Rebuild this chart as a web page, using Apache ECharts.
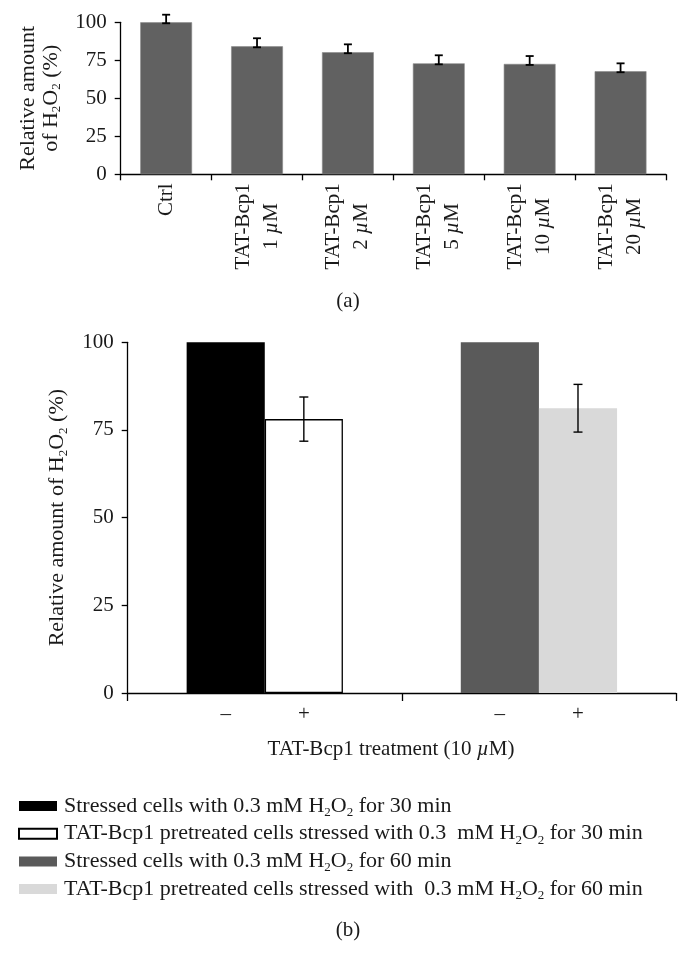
<!DOCTYPE html>
<html><head><meta charset="utf-8">
<script src="https://cdn.jsdelivr.net/npm/echarts@6/dist/echarts.min.js"></script>
<style>html,body{margin:0;padding:0;background:#fff}#c{width:687px;height:971px}</style>
</head><body><div id="c"></div>
<script>
// ---------- Panel (a) data ----------
const aCategories = ['Ctrl', 'TAT-Bcp1\n1 µM', 'TAT-Bcp1\n2 µM', 'TAT-Bcp1\n5 µM', 'TAT-Bcp1\n10 µM', 'TAT-Bcp1\n20 µM'];
const aValues = [100, 84.2, 80.3, 73.0, 72.6, 67.8];
const aErrors = [5.0, 5.3, 5.2, 5.3, 5.2, 5.2];
const aTickMin = 0, aTickMax = 100, aTickStep = 25;

// ---------- Panel (b) data ----------
const bGroups = ['30 min', '60 min'];
const bSigns = ['–', '+'];
const bNames = [
  'Stressed cells with 0.3 mM H2O2 for 30 min',
  'TAT-Bcp1 pretreated cells stressed with 0.3  mM H2O2 for 30 min',
  'Stressed cells with 0.3 mM H2O2 for 60 min',
  'TAT-Bcp1 pretreated cells stressed with  0.3 mM H2O2 for 60 min'
];
const bControl = [100, 100];          // untreated (–)
const bTreated = [78.1, 81.2];        // TAT-Bcp1 treated (+)
const bTreatedErr = [6.3, 6.8];
const bTickMin = 0, bTickMax = 100, bTickStep = 25;

const FONT = 'Liberation Serif';
const TXT = '#1a1a1a';
const BAR_GAP_A = 0.43, BAR_GAP_B = 0.43;

// measure text for centring second label line
const cv = document.createElement('canvas').getContext('2d');
function mw(t, italic, size) { cv.font = (italic ? 'italic ' : '') + size + 'px "' + FONT + '"'; return cv.measureText(t).width; }
const LS = 21, LLH = 28;
const aRich = {
  a: {fontFamily: FONT, fontSize: LS, color: TXT, lineHeight: LLH},
  m: {fontFamily: FONT, fontSize: LS, color: TXT, fontStyle: 'italic', lineHeight: LLH}
};
aCategories.forEach((c, i) => {
  const l = c.split('\n');
  if (l.length > 1) {
    const p = l[1].split('µ');
    const w1 = mw(l[0], false, LS);
    const w2 = mw(p[0], false, LS) + mw('µ', true, LS) + mw(p[1], false, LS);
    aRich['p' + i] = {width: Math.max(0, (w1 - w2) / 2), fontSize: LS, lineHeight: LLH};
  }
});

const sub = (size) => ({fontFamily: FONT, fontSize: size, fontWeight: 'normal', color: TXT, lineHeight: size, verticalAlign: 'bottom'});
const main = (size, lh) => ({fontFamily: FONT, fontSize: size, fontWeight: 'normal', color: TXT, lineHeight: lh});
function h2o2(s) {
  return s.split('H2O2').map(x => '{t|' + x + '}').join('{t|H}{s|2}{t|O}{s|2}');
}

const chart = echarts.init(document.getElementById('c'), null, {renderer: 'canvas'});
const axisLine = {show: true, lineStyle: {color: '#000', width: 1.3}};
const signLabel = (k) => ({show: true, position: 'bottom', distance: 11, formatter: () => bSigns[k],
  fontFamily: FONT, fontSize: 21, color: TXT});

const option = {
  animation: false,
  backgroundColor: '#fff',
  title: [
    {text: '(a)', left: 343, top: 286, textAlign: 'center',
     textStyle: {fontFamily: FONT, fontSize: 21, fontWeight: 'normal', color: TXT}},
    {text: '(b)', left: 343, top: 915, textAlign: 'center',
     textStyle: {fontFamily: FONT, fontSize: 21, fontWeight: 'normal', color: TXT}},
    {text: '{t|TAT-Bcp1 treatment (10 }{i|µ}{t|M)}', left: 386, top: 731, textAlign: 'center',
     textStyle: {fontWeight: 'normal', rich: {t: main(21, 26), i: Object.assign(main(21, 26), {fontStyle: 'italic'})}}}
  ],
  legend: {
    orient: 'vertical', left: 13, top: 790,
    itemWidth: 38, itemHeight: 10, itemGap: 3.7,
    icon: 'rect',
    data: bNames,
    formatter: n => h2o2(n),
    textStyle: {padding: [0, 0, 0, 2], rich: {t: main(22, 26), s: sub(13)}}
  },
  grid: [
    {left: 120.7, top: 22.3, width: 545.3, height: 152, containLabel: false},
    {left: 127.7, top: 342.3, width: 548.3, height: 350.7, containLabel: false}
  ],
  xAxis: [
    {gridIndex: 0, type: 'category', data: aCategories,
     axisLine: axisLine, axisTick: {show: true, length: 6, lineStyle: {color: '#000', width: 1.3}},
     axisLabel: {rotate: 90, margin: 9, interval: 0,
       formatter: (v, i) => {
         const l = v.split('\n');
         if (l.length === 1) return '{a|' + v + '}';
         const p = l[1].split('µ');
         return '{a|' + l[0] + '}\n{a|' + p[0] + '}{m|µ}{a|' + p[1] + '}{p' + i + '| }';
       },
       rich: aRich}},
    {gridIndex: 1, type: 'category', data: bGroups,
     axisLine: axisLine, axisTick: {show: true, length: 8, lineStyle: {color: '#000', width: 1.3}},
     axisLabel: {show: false}}
  ],
  yAxis: [
    {gridIndex: 0, type: 'value', min: aTickMin, max: aTickMax, interval: aTickStep,
     axisLine: axisLine, axisTick: {show: true, length: 6, lineStyle: {color: '#000', width: 1.3}},
     splitLine: {show: false},
     axisLabel: {fontFamily: FONT, fontSize: 21, color: TXT, margin: 14},
     name: '{t|Relative amount}\n' + h2o2('of H2O2 (%)'),
     nameLocation: 'middle', nameGap: 58, nameRotate: 90,
     nameTextStyle: {rich: {t: main(22, 23), s: sub(13)}}},
    {gridIndex: 1, type: 'value', min: bTickMin, max: bTickMax, interval: bTickStep,
     axisLine: axisLine, axisTick: {show: true, length: 6, lineStyle: {color: '#000', width: 1.3}},
     splitLine: {show: false},
     axisLabel: {fontFamily: FONT, fontSize: 21, color: TXT, margin: 14},
     name: h2o2('Relative amount of H2O2 (%)'),
     nameLocation: 'middle', nameGap: 58, nameRotate: 90,
     nameTextStyle: {rich: {t: main(22, 24), s: sub(13)}}}
  ],
  series: [
    {type: 'bar', xAxisIndex: 0, yAxisIndex: 0, data: aValues,
     barCategoryGap: (BAR_GAP_A * 100) + '%',
     itemStyle: {color: '#616161', borderColor: '#8a8a8a', borderWidth: 0.6}},
    {type: 'custom', xAxisIndex: 0, yAxisIndex: 0, z: 5,
     data: aValues.map((v, i) => [i, v, aErrors[i]]),
     renderItem: (params, api) => {
       const i = api.value(0), v = api.value(1), e = api.value(2);
       const top = api.coord([i, v + e]), bot = api.coord([i, v]);
       const cw = 4;
       const st = {stroke: '#000', lineWidth: 1.8};
       return {type: 'group', children: [
         {type: 'line', shape: {x1: top[0], y1: top[1], x2: bot[0], y2: bot[1] + 1}, style: st},
         {type: 'line', shape: {x1: top[0] - cw, y1: top[1], x2: top[0] + cw, y2: top[1]}, style: st},
         {type: 'line', shape: {x1: bot[0] - cw, y1: bot[1] + 1, x2: bot[0] + cw, y2: bot[1] + 1}, style: st}
       ]};
     }},
    // panel b bars
    {name: bNames[0], type: 'bar', xAxisIndex: 1, yAxisIndex: 1, stack: 'minus',
     data: [bControl[0], '-'], barGap: '0%', barCategoryGap: (BAR_GAP_B * 100) + '%',
     itemStyle: {color: '#000000'}, label: signLabel(0)},
    {name: bNames[1], type: 'bar', xAxisIndex: 1, yAxisIndex: 1, stack: 'plus',
     data: [bTreated[0], '-'], barGap: '0%', barCategoryGap: (BAR_GAP_B * 100) + '%',
     itemStyle: {color: '#ffffff', borderColor: '#000', borderWidth: 1.3}, label: signLabel(1)},
    {name: bNames[2], type: 'bar', xAxisIndex: 1, yAxisIndex: 1, stack: 'minus',
     data: ['-', bControl[1]], barGap: '0%', barCategoryGap: (BAR_GAP_B * 100) + '%',
     itemStyle: {color: '#5a5a5a'}, label: signLabel(0)},
    {name: bNames[3], type: 'bar', xAxisIndex: 1, yAxisIndex: 1, stack: 'plus',
     data: ['-', bTreated[1]], barGap: '0%', barCategoryGap: (BAR_GAP_B * 100) + '%',
     itemStyle: {color: '#d9d9d9'}, label: signLabel(1)},
    {type: 'custom', xAxisIndex: 1, yAxisIndex: 1, z: 5,
     data: bTreated.map((v, i) => [i, v, bTreatedErr[i]]),
     renderItem: (params, api) => {
       const i = api.value(0), v = api.value(1), e = api.value(2);
       const band = api.size([1, 0])[0];
       const bw = band * (1 - BAR_GAP_B) / 2;
       const top = api.coord([i, v + e]), bot = api.coord([i, v - e]);
       const x = top[0] + bw / 2;
       const cw = 4.5;
       const st = {stroke: '#000', lineWidth: 1.4};
       return {type: 'group', children: [
         {type: 'line', shape: {x1: x, y1: top[1], x2: x, y2: bot[1]}, style: st},
         {type: 'line', shape: {x1: x - cw, y1: top[1], x2: x + cw, y2: top[1]}, style: st},
         {type: 'line', shape: {x1: x - cw, y1: bot[1], x2: x + cw, y2: bot[1]}, style: st}
       ]};
     }}
  ]
};
chart.setOption(option);
</script>
</body></html>
